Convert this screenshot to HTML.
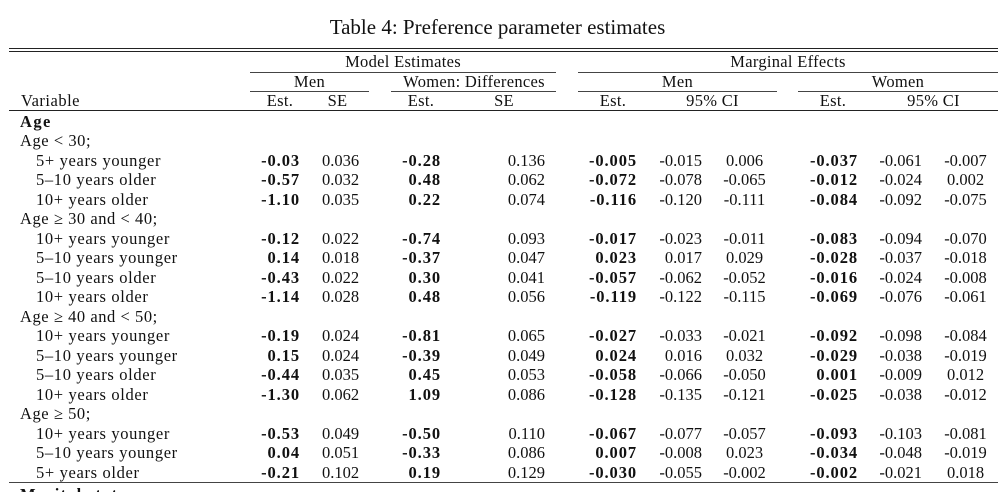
<!DOCTYPE html>
<html>
<head>
<meta charset="utf-8">
<style>
html{margin:0;padding:0;background:#fff;width:1008px;height:492px;overflow:hidden;}
body{margin:0;padding:0;background:#fff;width:1008px;height:492px;position:relative;overflow:hidden;font-family:"Liberation Serif",serif;color:#111;font-size:16.5px;}
.t{position:absolute;white-space:nowrap;line-height:20px;height:20px;}
.row{position:absolute;left:0;width:1008px;height:20px;}
.row span{position:absolute;top:0;white-space:nowrap;line-height:20px;}
.b{font-weight:bold;letter-spacing:1px;}
.lab{left:36px;letter-spacing:0.65px;}
.grp{left:20px;letter-spacing:0.55px;}
.c1{right:708px;font-weight:bold;letter-spacing:0.9px;}
.c2{left:322px;}
.c3{right:567px;font-weight:bold;letter-spacing:0.9px;}
.c4{right:463px;}
.c5{right:371px;font-weight:bold;letter-spacing:0.9px;}
.c6{right:306px;}
.c7{left:744.5px;transform:translateX(-50%);}
.c8{right:150px;font-weight:bold;letter-spacing:0.9px;}
.c9{right:86px;}
.c10{left:965.5px;transform:translateX(-50%);}
.ln{position:absolute;height:1px;background:#222;}
.cm{position:absolute;height:1px;background:#444;}
.h{position:absolute;white-space:nowrap;line-height:20px;transform:translateX(-50%);letter-spacing:0.3px;}
</style>
</head>
<body>
<div class="t" style="left:0;width:995px;text-align:center;top:14px;font-size:21px;line-height:26px;height:26px;">Table 4: Preference parameter estimates</div>

<div class="ln" style="left:9px;width:989px;top:48px;"></div>
<div class="ln" style="left:9px;width:989px;top:51px;"></div>

<div class="h" style="left:403px;top:51.5px;">Model Estimates</div>
<div class="h" style="left:788px;top:51.5px;">Marginal Effects</div>

<div class="cm" style="left:250px;width:306px;top:72px;"></div>
<div class="cm" style="left:578px;width:420px;top:72px;"></div>

<div class="h" style="left:309.5px;top:71.5px;">Men</div>
<div class="h" style="left:474px;top:71.5px;">Women: Differences</div>
<div class="h" style="left:677.5px;top:71.5px;">Men</div>
<div class="h" style="left:898px;top:71.5px;">Women</div>

<div class="cm" style="left:250px;width:119px;top:91px;"></div>
<div class="cm" style="left:391px;width:165px;top:91px;"></div>
<div class="cm" style="left:578px;width:199px;top:91px;"></div>
<div class="cm" style="left:798px;width:200px;top:91px;"></div>

<div class="t" style="left:21px;top:90.5px;letter-spacing:0.5px;">Variable</div>
<div class="h" style="left:280px;top:90.5px;">Est.</div>
<div class="h" style="left:337.5px;top:90.5px;">SE</div>
<div class="h" style="left:421px;top:90.5px;">Est.</div>
<div class="h" style="left:504px;top:90.5px;">SE</div>
<div class="h" style="left:613px;top:90.5px;">Est.</div>
<div class="h" style="left:712.5px;top:90.5px;">95% CI</div>
<div class="h" style="left:833px;top:90.5px;">Est.</div>
<div class="h" style="left:933.5px;top:90.5px;">95% CI</div>

<div class="ln" style="left:9px;width:989px;top:110px;"></div>

<div class="row" style="top:111.9px"><span class="grp b" style="letter-spacing:1.4px">Age</span></div>
<div class="row" style="top:131.4px"><span class="grp">Age &lt; 30;</span></div>
<div class="row" style="top:150.9px"><span class="lab">5+ years younger</span><span class="c1">-0.03</span><span class="c2">0.036</span><span class="c3">-0.28</span><span class="c4">0.136</span><span class="c5">-0.005</span><span class="c6">-0.015</span><span class="c7">0.006</span><span class="c8">-0.037</span><span class="c9">-0.061</span><span class="c10">-0.007</span></div>
<div class="row" style="top:170.4px"><span class="lab">5–10 years older</span><span class="c1">-0.57</span><span class="c2">0.032</span><span class="c3">0.48</span><span class="c4">0.062</span><span class="c5">-0.072</span><span class="c6">-0.078</span><span class="c7">-0.065</span><span class="c8">-0.012</span><span class="c9">-0.024</span><span class="c10">0.002</span></div>
<div class="row" style="top:189.9px"><span class="lab">10+ years older</span><span class="c1">-1.10</span><span class="c2">0.035</span><span class="c3">0.22</span><span class="c4">0.074</span><span class="c5">-0.116</span><span class="c6">-0.120</span><span class="c7">-0.111</span><span class="c8">-0.084</span><span class="c9">-0.092</span><span class="c10">-0.075</span></div>
<div class="row" style="top:209.4px"><span class="grp">Age ≥ 30 and &lt; 40;</span></div>
<div class="row" style="top:228.9px"><span class="lab">10+ years younger</span><span class="c1">-0.12</span><span class="c2">0.022</span><span class="c3">-0.74</span><span class="c4">0.093</span><span class="c5">-0.017</span><span class="c6">-0.023</span><span class="c7">-0.011</span><span class="c8">-0.083</span><span class="c9">-0.094</span><span class="c10">-0.070</span></div>
<div class="row" style="top:248.4px"><span class="lab">5–10 years younger</span><span class="c1">0.14</span><span class="c2">0.018</span><span class="c3">-0.37</span><span class="c4">0.047</span><span class="c5">0.023</span><span class="c6">0.017</span><span class="c7">0.029</span><span class="c8">-0.028</span><span class="c9">-0.037</span><span class="c10">-0.018</span></div>
<div class="row" style="top:267.9px"><span class="lab">5–10 years older</span><span class="c1">-0.43</span><span class="c2">0.022</span><span class="c3">0.30</span><span class="c4">0.041</span><span class="c5">-0.057</span><span class="c6">-0.062</span><span class="c7">-0.052</span><span class="c8">-0.016</span><span class="c9">-0.024</span><span class="c10">-0.008</span></div>
<div class="row" style="top:287.4px"><span class="lab">10+ years older</span><span class="c1">-1.14</span><span class="c2">0.028</span><span class="c3">0.48</span><span class="c4">0.056</span><span class="c5">-0.119</span><span class="c6">-0.122</span><span class="c7">-0.115</span><span class="c8">-0.069</span><span class="c9">-0.076</span><span class="c10">-0.061</span></div>
<div class="row" style="top:306.9px"><span class="grp">Age ≥ 40 and &lt; 50;</span></div>
<div class="row" style="top:326.4px"><span class="lab">10+ years younger</span><span class="c1">-0.19</span><span class="c2">0.024</span><span class="c3">-0.81</span><span class="c4">0.065</span><span class="c5">-0.027</span><span class="c6">-0.033</span><span class="c7">-0.021</span><span class="c8">-0.092</span><span class="c9">-0.098</span><span class="c10">-0.084</span></div>
<div class="row" style="top:345.9px"><span class="lab">5–10 years younger</span><span class="c1">0.15</span><span class="c2">0.024</span><span class="c3">-0.39</span><span class="c4">0.049</span><span class="c5">0.024</span><span class="c6">0.016</span><span class="c7">0.032</span><span class="c8">-0.029</span><span class="c9">-0.038</span><span class="c10">-0.019</span></div>
<div class="row" style="top:365.4px"><span class="lab">5–10 years older</span><span class="c1">-0.44</span><span class="c2">0.035</span><span class="c3">0.45</span><span class="c4">0.053</span><span class="c5">-0.058</span><span class="c6">-0.066</span><span class="c7">-0.050</span><span class="c8">0.001</span><span class="c9">-0.009</span><span class="c10">0.012</span></div>
<div class="row" style="top:384.9px"><span class="lab">10+ years older</span><span class="c1">-1.30</span><span class="c2">0.062</span><span class="c3">1.09</span><span class="c4">0.086</span><span class="c5">-0.128</span><span class="c6">-0.135</span><span class="c7">-0.121</span><span class="c8">-0.025</span><span class="c9">-0.038</span><span class="c10">-0.012</span></div>
<div class="row" style="top:404.4px"><span class="grp">Age ≥ 50;</span></div>
<div class="row" style="top:423.9px"><span class="lab">10+ years younger</span><span class="c1">-0.53</span><span class="c2">0.049</span><span class="c3">-0.50</span><span class="c4">0.110</span><span class="c5">-0.067</span><span class="c6">-0.077</span><span class="c7">-0.057</span><span class="c8">-0.093</span><span class="c9">-0.103</span><span class="c10">-0.081</span></div>
<div class="row" style="top:443.4px"><span class="lab">5–10 years younger</span><span class="c1">0.04</span><span class="c2">0.051</span><span class="c3">-0.33</span><span class="c4">0.086</span><span class="c5">0.007</span><span class="c6">-0.008</span><span class="c7">0.023</span><span class="c8">-0.034</span><span class="c9">-0.048</span><span class="c10">-0.019</span></div>
<div class="row" style="top:462.9px"><span class="lab">5+ years older</span><span class="c1">-0.21</span><span class="c2">0.102</span><span class="c3">0.19</span><span class="c4">0.129</span><span class="c5">-0.030</span><span class="c6">-0.055</span><span class="c7">-0.002</span><span class="c8">-0.002</span><span class="c9">-0.021</span><span class="c10">0.018</span></div>

<div class="ln" style="left:9px;width:989px;top:481.5px;background:#444;height:1.5px;"></div>

<div class="row" style="top:484.5px"><span class="grp b" style="letter-spacing:1.2px">Marital status</span></div>
</body>
</html>
